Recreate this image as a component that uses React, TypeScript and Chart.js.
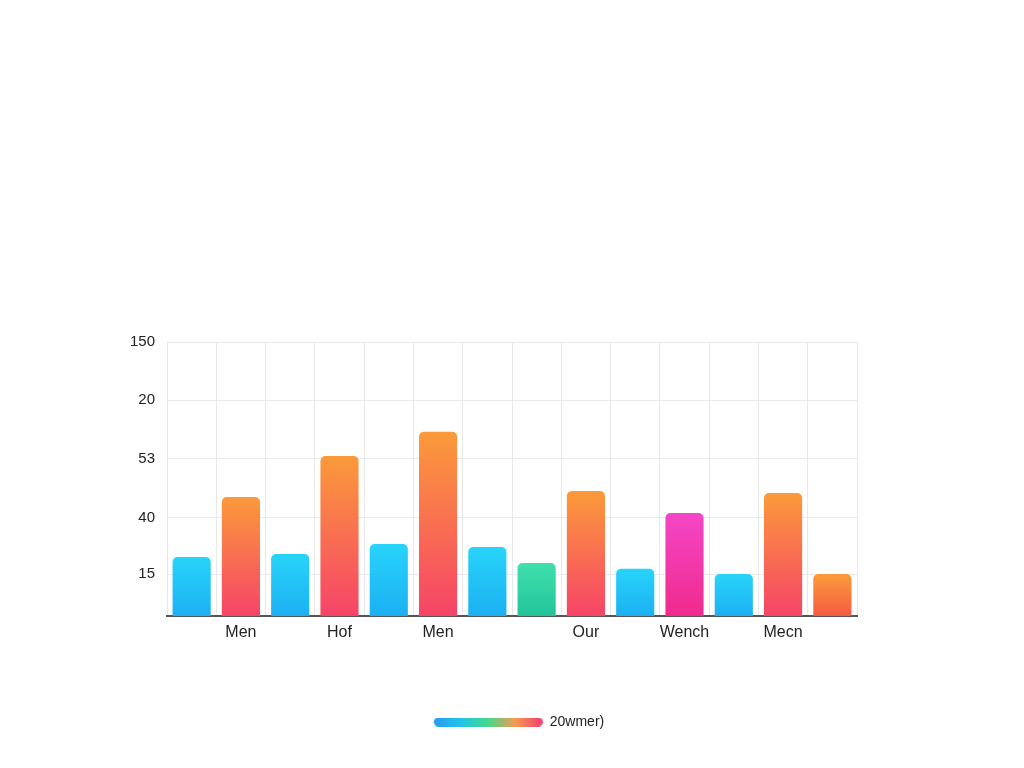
import React, { useEffect, useRef } from "react";
import { Chart, registerables } from "chart.js";

Chart.register(...registerables);

const categories = ["", "Men", "", "Hof", "", "Men", "", "", "Our", "", "Wench", "", "Mecn", ""];
const values = [21.5, 43.4, 22.6, 58.4, 26.3, 67.2, 25.2, 19.3, 45.6, 17.2, 37.6, 15.3, 44.9, 15.3];
const barKinds = ["blue", "orange", "blue", "orange", "blue", "orange", "blue", "green", "orange", "blue", "pink", "blue", "orange", "amber"];
const tickValues = [15.3, 35.8, 57.3, 78.8, 100];
const tickLabels = ["15", "40", "53", "20", "150"];
const legendLabel = "20wmer)";

const palette: Record<string, [string, string]> = {
  blue: ["#28d4fa", "#1cb0f2"],
  orange: ["#fb9a3a", "#f64468"],
  green: ["#40e0ac", "#22c49a"],
  pink: ["#f446c6", "#f02a8e"],
  amber: ["#fb9c3a", "#f65a42"],
};

const PILL_LEAD = 14;
const PILL_W = 109;

function makeLegendPill(): HTMLCanvasElement {
  const c = document.createElement("canvas");
  c.width = PILL_W + PILL_LEAD;
  c.height = 9;
  const g = c.getContext("2d")!;
  const grad = g.createLinearGradient(PILL_LEAD, 0, PILL_LEAD + PILL_W, 0);
  grad.addColorStop(0, "#2a9cf0");
  grad.addColorStop(0.25, "#22c4ea");
  grad.addColorStop(0.5, "#46d88a");
  grad.addColorStop(0.75, "#f59a52");
  grad.addColorStop(1, "#f43c70");
  g.fillStyle = grad;
  g.beginPath();
  (g as any).roundRect(PILL_LEAD, 0, PILL_W, 9, 4.5);
  g.fill();
  return c;
}

export default function App() {
  const ref = useRef<HTMLCanvasElement>(null);
  useEffect(() => {
    if (!ref.current) return;
    const pill = makeLegendPill();
    const chart = new Chart(ref.current, {
      type: "bar",
      data: {
        labels: categories,
        datasets: [
          {
            label: legendLabel,
            data: values,
            barPercentage: 0.86,
            categoryPercentage: 0.9,
            borderRadius: 5,
            backgroundColor: (ctx: any) => {
              const chart = ctx.chart;
              const kind = barKinds[ctx.dataIndex] || "blue";
              const [top, bottom] = palette[kind];
              const ys = chart.scales && chart.scales.y;
              if (!chart.chartArea || !ys || ctx.type !== "data") return top;
              const yTop = ys.getPixelForValue(ctx.raw);
              const yBase = ys.getPixelForValue(0);
              const grad = chart.ctx.createLinearGradient(0, yTop, 0, yBase);
              grad.addColorStop(0, top);
              grad.addColorStop(1, bottom);
              return grad;
            },
          },
        ],
      },
      options: {
        animation: false,
        responsive: true,
        maintainAspectRatio: false,
        layout: { padding: { top: 334, left: 0, right: 0, bottom: 21 } },
        plugins: {
          tooltip: { enabled: false },
          legend: {
            position: "bottom",
            labels: {
              usePointStyle: true,
              pointStyle: pill as any,
              pointStyleWidth: PILL_W + PILL_LEAD,
              color: "#222",
              font: { family: "Liberation Sans", size: 14 },
              padding: 10,
            },
          },
        },
        scales: {
          x: {
            grid: { color: "#e9e9e9", drawTicks: false, offset: true },
            border: { color: "#555", width: 2 },
            ticks: {
              autoSkip: false,
              maxRotation: 0,
              padding: 7,
              color: "#222",
              font: { family: "Liberation Sans", size: 16 },
            },
            afterFit: (scale: any) => {
              scale.height = 89;
            },
          },
          y: {
            min: 0,
            max: 100,
            grid: { color: "#e9e9e9", drawTicks: false },
            border: { display: false },
            afterBuildTicks: (scale: any) => {
              scale.ticks = tickValues.map((v) => ({ value: v }));
            },
            ticks: {
              padding: 12,
              color: "#222",
              font: { family: "Liberation Sans", size: 15 },
              callback: (_v: any, i: number) => tickLabels[i],
            },
            afterFit: (scale: any) => {
              scale.width = 159;
            },
          },
          yRight: {
            position: "right",
            min: 0,
            max: 100,
            grid: { display: false },
            border: { display: false },
            ticks: { display: false },
            afterFit: (scale: any) => {
              scale.width = 159;
            },
          },
        },
      },
    });
    return () => chart.destroy();
  }, []);
  return (
    <div style={{ position: "relative", width: 1008, height: 752, background: "#fff" }}>
      <canvas ref={ref} />
    </div>
  );
}
